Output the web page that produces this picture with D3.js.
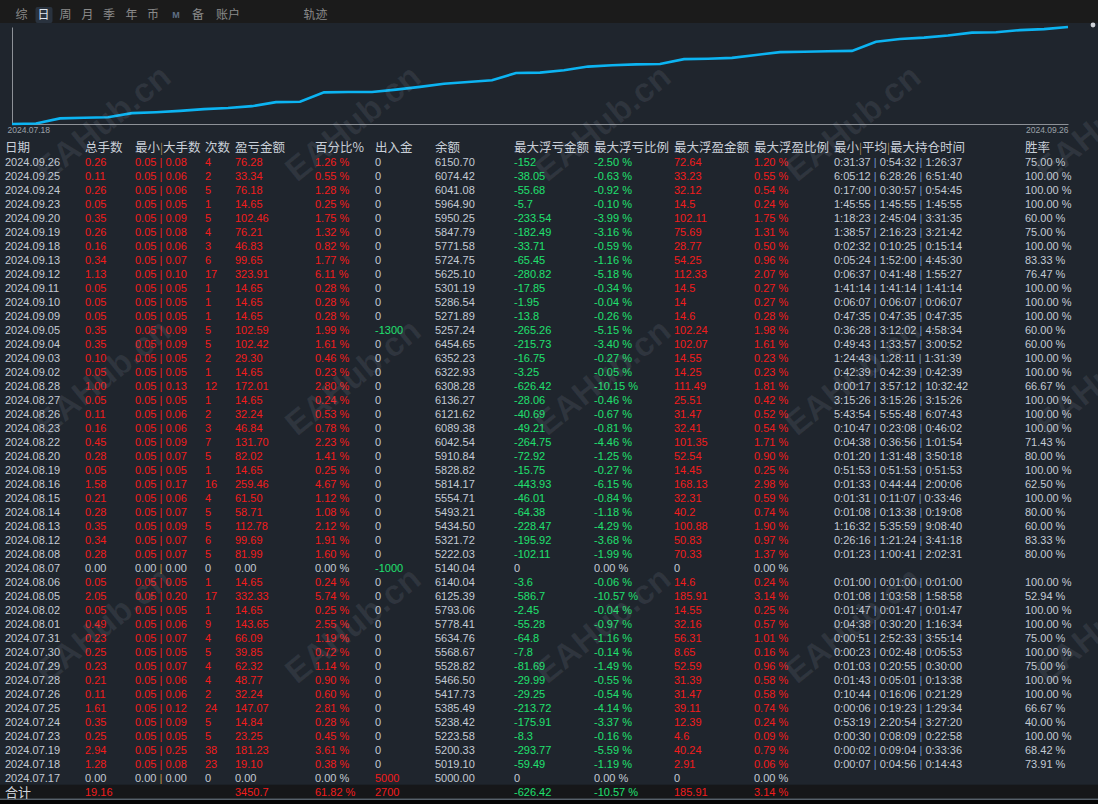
<!DOCTYPE html>
<html>
<head>
<meta charset="utf-8">
<script src="https://cdn.jsdelivr.net/npm/d3@7"></script>
<style>
  body { margin: 0; background: #1f252d; overflow: hidden; }
  svg { display: block; font-family: "Liberation Sans", Arial, "Noto Sans CJK SC", sans-serif; }
</style>
</head>
<body>
<svg width="1098" height="804"></svg>
<script>
// Daily report, newest day first (as shown in the table)
var dates = ["2024.09.26","2024.09.25","2024.09.24","2024.09.23","2024.09.20","2024.09.19","2024.09.18","2024.09.13","2024.09.12","2024.09.11","2024.09.10","2024.09.09","2024.09.05","2024.09.04","2024.09.03","2024.09.02","2024.08.28","2024.08.27","2024.08.26","2024.08.23","2024.08.22","2024.08.20","2024.08.19","2024.08.16","2024.08.15","2024.08.14","2024.08.13","2024.08.12","2024.08.08","2024.08.07","2024.08.06","2024.08.05","2024.08.02","2024.08.01","2024.07.31","2024.07.30","2024.07.29","2024.07.28","2024.07.26","2024.07.25","2024.07.24","2024.07.23","2024.07.19","2024.07.18","2024.07.17"];
var lots = [0.26,0.11,0.26,0.05,0.35,0.26,0.16,0.34,1.13,0.05,0.05,0.05,0.35,0.35,0.10,0.05,1.00,0.05,0.11,0.16,0.45,0.28,0.05,1.58,0.21,0.28,0.35,0.34,0.28,0.00,0.05,2.05,0.05,0.49,0.23,0.25,0.23,0.21,0.11,1.61,0.35,0.25,2.94,1.28,0.00];
var minLot = [0.05,0.05,0.05,0.05,0.05,0.05,0.05,0.05,0.05,0.05,0.05,0.05,0.05,0.05,0.05,0.05,0.05,0.05,0.05,0.05,0.05,0.05,0.05,0.05,0.05,0.05,0.05,0.05,0.05,0.00,0.05,0.05,0.05,0.05,0.05,0.05,0.05,0.05,0.05,0.05,0.05,0.05,0.05,0.05,0.00];
var maxLot = [0.08,0.06,0.06,0.05,0.09,0.08,0.06,0.07,0.10,0.05,0.05,0.05,0.09,0.09,0.05,0.05,0.13,0.05,0.06,0.06,0.09,0.07,0.05,0.17,0.06,0.07,0.09,0.07,0.07,0.00,0.05,0.20,0.05,0.06,0.07,0.05,0.07,0.06,0.06,0.12,0.09,0.05,0.25,0.08,0.00];
var counts = [4,2,5,1,5,4,3,6,17,1,1,1,5,5,2,1,12,1,2,3,7,5,1,16,4,5,5,6,5,0,1,17,1,9,4,5,4,4,2,24,5,5,38,23,0];
var profit = [76.28,33.34,76.18,14.65,102.46,76.21,46.83,99.65,323.91,14.65,14.65,14.65,102.59,102.42,29.30,14.65,172.01,14.65,32.24,46.84,131.70,82.02,14.65,259.46,61.50,58.71,112.78,99.69,81.99,0.00,14.65,332.33,14.65,143.65,66.09,39.85,62.32,48.77,32.24,147.07,14.84,23.25,181.23,19.10,0.00];
var profitPct = [1.26,0.55,1.28,0.25,1.75,1.32,0.82,1.77,6.11,0.28,0.28,0.28,1.99,1.61,0.46,0.23,2.80,0.24,0.53,0.78,2.23,1.41,0.25,4.67,1.12,1.08,2.12,1.91,1.60,0.00,0.24,5.74,0.25,2.55,1.19,0.72,1.14,0.90,0.60,2.81,0.28,0.45,3.61,0.38,0.00];
var cashFlow = [0,0,0,0,0,0,0,0,0,0,0,0,-1300,0,0,0,0,0,0,0,0,0,0,0,0,0,0,0,0,-1000,0,0,0,0,0,0,0,0,0,0,0,0,0,0,5000];
var balance = [6150.70,6074.42,6041.08,5964.90,5950.25,5847.79,5771.58,5724.75,5625.10,5301.19,5286.54,5271.89,5257.24,6454.65,6352.23,6322.93,6308.28,6136.27,6121.62,6089.38,6042.54,5910.84,5828.82,5814.17,5554.71,5493.21,5434.50,5321.72,5222.03,5140.04,6140.04,6125.39,5793.06,5778.41,5634.76,5568.67,5528.82,5466.50,5417.73,5385.49,5238.42,5223.58,5200.33,5019.10,5000.00];
var floatLoss = [-152,-38.05,-55.68,-5.7,-233.54,-182.49,-33.71,-65.45,-280.82,-17.85,-1.95,-13.8,-265.26,-215.73,-16.75,-3.25,-626.42,-28.06,-40.69,-49.21,-264.75,-72.92,-15.75,-443.93,-46.01,-64.38,-228.47,-195.92,-102.11,0,-3.6,-586.7,-2.45,-55.28,-64.8,-7.8,-81.69,-29.99,-29.25,-213.72,-175.91,-8.3,-293.77,-59.49,0];
var floatLossPct = [-2.50,-0.63,-0.92,-0.10,-3.99,-3.16,-0.59,-1.16,-5.18,-0.34,-0.04,-0.26,-5.15,-3.40,-0.27,-0.05,-10.15,-0.46,-0.67,-0.81,-4.46,-1.25,-0.27,-6.15,-0.84,-1.18,-4.29,-3.68,-1.99,0.00,-0.06,-10.57,-0.04,-0.97,-1.16,-0.14,-1.49,-0.55,-0.54,-4.14,-3.37,-0.16,-5.59,-1.19,0.00];
var floatGain = [72.64,33.23,32.12,14.5,102.11,75.69,28.77,54.25,112.33,14.5,14,14.6,102.24,102.07,14.55,14.25,111.49,25.51,31.47,32.41,101.35,52.54,14.45,168.13,32.31,40.2,100.88,50.83,70.33,0,14.6,185.91,14.55,32.16,56.31,8.65,52.59,31.39,31.47,39.11,12.39,4.6,40.24,2.91,0];
var floatGainPct = [1.20,0.55,0.54,0.24,1.75,1.31,0.50,0.96,2.07,0.27,0.27,0.28,1.98,1.61,0.23,0.23,1.81,0.42,0.52,0.54,1.71,0.90,0.25,2.98,0.59,0.74,1.90,0.97,1.37,0.00,0.24,3.14,0.25,0.57,1.01,0.16,0.96,0.58,0.58,0.74,0.24,0.09,0.79,0.06,0.00];
var holdTimes = ["0:31:37|0:54:32|1:26:37","6:05:12|6:28:26|6:51:40","0:17:00|0:30:57|0:54:45","1:45:55|1:45:55|1:45:55","1:18:23|2:45:04|3:31:35","1:38:57|2:16:23|3:21:42","0:02:32|0:10:25|0:15:14","0:05:24|1:52:00|4:45:30","0:06:37|0:41:48|1:55:27","1:41:14|1:41:14|1:41:14","0:06:07|0:06:07|0:06:07","0:47:35|0:47:35|0:47:35","0:36:28|3:12:02|4:58:34","0:49:43|1:33:57|3:00:52","1:24:43|1:28:11|1:31:39","0:42:39|0:42:39|0:42:39","0:00:17|3:57:12|10:32:42","3:15:26|3:15:26|3:15:26","5:43:54|5:55:48|6:07:43","0:10:47|0:23:08|0:46:02","0:04:38|0:36:56|1:01:54","0:01:20|1:31:48|3:50:18","0:51:53|0:51:53|0:51:53","0:01:33|0:44:44|2:00:06","0:01:31|0:11:07|0:33:46","0:01:08|0:13:38|0:19:08","1:16:32|5:35:59|9:08:40","0:26:16|1:21:24|3:41:18","0:01:23|1:00:41|2:02:31","","0:01:00|0:01:00|0:01:00","0:01:08|1:03:58|1:58:58","0:01:47|0:01:47|0:01:47","0:04:38|0:30:20|1:16:34","0:00:51|2:52:33|3:55:14","0:00:23|0:02:48|0:05:53","0:01:03|0:20:55|0:30:00","0:01:43|0:05:01|0:13:38","0:10:44|0:16:06|0:21:29","0:00:06|0:19:23|1:29:34","0:53:19|2:20:54|3:27:20","0:00:30|0:08:09|0:22:58","0:00:02|0:09:04|0:33:36","0:00:07|0:04:56|0:14:43",""];
var winRate = [75.00,100.00,100.00,100.00,60.00,75.00,100.00,83.33,76.47,100.00,100.00,100.00,60.00,60.00,100.00,100.00,66.67,100.00,100.00,100.00,71.43,80.00,100.00,62.50,100.00,80.00,60.00,83.33,80.00,null,100.00,52.94,100.00,100.00,75.00,100.00,75.00,100.00,100.00,66.67,40.00,100.00,68.42,73.91,null];

// Totals row (合计)
var totalKeys = ["lots","profit","profitPct","cashFlow","floatLoss","floatLossPct","floatGain","floatGainPct"];
var totalValues = ["19.16","3450.7","61.82 %","2700","-626.42","-10.57 %","185.91","3.14 %"];
var totalSigns = [1,1,1,1,-1,-1,1,1];

var tabs = ["综","日","周","月","季","年","币","M","备","账户","轨迹"];
var selectedTab = "日";
var watermark = "EAHub.cn";

var RED = "#f21c1c", GREEN = "#1fe06f", GRAY = "#c3cad4";

var svg = d3.select("svg");

// ---- tab bar
svg.append("rect").attr("width", 1098).attr("height", 23).attr("fill", "#1b1b1b");
var tabX = d3.scaleOrdinal().domain(tabs).range([21.5, 43.5, 65.5, 87.5, 109, 131.5, 153, 176, 198, 228, 315.5]);
svg.append("rect").attr("x", tabX(selectedTab) - 8).attr("y", 7).attr("width", 17).attr("height", 16)
  .attr("rx", 2).attr("fill", "#29323e");
svg.append("g").selectAll("text").data(tabs).join("text")
  .attr("x", d => tabX(d)).attr("y", 15).attr("dy", "0.36em")
  .attr("text-anchor", "middle")
  .style("font-family", d => d === "M" ? "'Liberation Sans', sans-serif" : "'Noto Sans CJK SC', sans-serif")
  .style("font-size", d => d === "M" ? "9px" : "12px")
  .style("font-weight", d => d === "M" ? "bold" : "normal")
  .attr("fill", d => d === selectedTab ? "#dfe5ee" : d === "M" ? "#5f6f86" : "#8a8a8a")
  .text(d => d);

// ---- cumulative profit line (one step per trading day, oldest first)
var chrono = profit.slice(0, -1).reverse();
var chronoDates = dates.slice(0, -1).reverse();
var cum = [0].concat(Array.from(d3.cumsum(chrono)));

var x = d3.scaleLinear().domain([0, chrono.length]).range([12, 1068]);
var y = d3.scaleLinear().domain([0, d3.max(cum)]).range([124, 27]);

var xAxis = svg.append("g")
  .attr("transform", "translate(0,124)")
  .call(d3.axisBottom(x).tickValues([0, chrono.length]).tickSize(0).tickSizeOuter(0)
    .tickFormat(i => i === 0 ? chronoDates[0] : chronoDates[chrono.length - 1]));
xAxis.select(".domain").attr("stroke", "#8d9197");
xAxis.selectAll("text")
  .attr("fill", "#9ba1a8").style("font-size", "8.5px")
  .attr("text-anchor", (d, i) => i === 0 ? "start" : "end")
  .attr("dx", (d, i) => i === 0 ? -5 : 0);

var yAxis = svg.append("g")
  .attr("transform", "translate(12,0)")
  .call(d3.axisLeft(y).tickValues([]).tickSizeOuter(0));
yAxis.select(".domain").attr("stroke", "#8d9197");

svg.append("path")
  .datum(cum)
  .attr("fill", "none")
  .attr("stroke", "#0cb4f2")
  .attr("stroke-width", 2.6)
  .attr("d", d3.line().x((d, i) => x(i)).y(d => y(d)));

svg.append("circle").attr("cx", 1093).attr("cy", 25).attr("r", 2.4).attr("fill", "#cfd3d8");

// ---- table
var rowY = d3.scaleBand().domain(d3.range(-1, dates.length + 1)).range([140.7, 798.7]);
var cy = i => rowY(i) + rowY.bandwidth() / 2;

var fmt2 = v => v.toFixed(2);
var pct = v => v.toFixed(2) + " %";
var pos = v => v > 0 ? RED : GRAY;
var neg = v => v < 0 ? GREEN : GRAY;

var columns = [
  { key: "date", title: "日期", x: 5, values: dates, text: v => v, color: () => GRAY },
  { key: "lots", title: "总手数", x: 85, values: lots, text: fmt2, color: pos },
  { key: "lotRange", title: "最小|大手数", x: 135, values: minLot },
  { key: "counts", title: "次数", x: 205, values: counts, text: String, color: pos },
  { key: "profit", title: "盈亏金额", x: 235, values: profit, text: fmt2, color: pos },
  { key: "profitPct", title: "百分比%", x: 315, values: profitPct, text: pct, color: pos },
  { key: "cashFlow", title: "出入金", x: 375, values: cashFlow, text: String, color: v => v > 0 ? RED : v < 0 ? GREEN : GRAY },
  { key: "balance", title: "余额", x: 435, values: balance, text: fmt2, color: () => GRAY },
  { key: "floatLoss", title: "最大浮亏金额", x: 514, values: floatLoss, text: String, color: neg },
  { key: "floatLossPct", title: "最大浮亏比例", x: 594, values: floatLossPct, text: pct, color: neg },
  { key: "floatGain", title: "最大浮盈金额", x: 674, values: floatGain, text: String, color: pos },
  { key: "floatGainPct", title: "最大浮盈比例", x: 754, values: floatGainPct, text: pct, color: pos },
  { key: "hold", title: "最小|平均|最大持仓时间", x: 834, values: holdTimes },
  { key: "win", title: "胜率", x: 1025, values: winRate, text: v => v === null ? "" : pct(v), color: () => GRAY }
];

// header
var header = svg.append("g").selectAll("text").data(columns).join("text")
  .attr("x", c => c.x).attr("y", cy(-1)).attr("dy", "0.36em")
  .attr("fill", "#c9cfd8")
  .style("font-family", "'Noto Sans CJK SC', sans-serif")
  .style("font-size", "12.5px");
header.each(function (c) {
  var parts = c.title.split("|");
  var t = d3.select(this);
  parts.forEach(function (p, i) {
    if (i > 0) t.append("tspan").attr("fill", "#b08a52").style("font-size", "11px").text("|");
    t.append("tspan").text(p);
  });
});

// total row background
svg.append("rect").attr("x", 0).attr("y", rowY(dates.length)).attr("width", 1098)
  .attr("height", rowY.bandwidth()).attr("fill", "#161719");
svg.append("rect").attr("x", 0).attr("y", rowY(dates.length) + rowY.bandwidth())
  .attr("width", 1098).attr("height", 804).attr("fill", "#050505");
svg.append("line").attr("x1", 0).attr("x2", 1098)
  .attr("y1", rowY(dates.length) + rowY.bandwidth() + 0.5).attr("y2", rowY(dates.length) + rowY.bandwidth() + 0.5)
  .attr("stroke", "#7d8a99");

var body = svg.append("g").style("font-size", "11px");

columns.forEach(function (c) {
  var g = body.append("g");
  var cells = g.selectAll("text").data(c.values).join("text")
    .attr("x", c.x).attr("y", (d, i) => cy(i)).attr("dy", "0.36em");

  if (c.key === "lotRange") {
    cells.each(function (d, i) {
      var active = maxLot[i] > 0;
      var t = d3.select(this).attr("fill", active ? RED : GRAY).attr("xml:space", "preserve");
      t.append("tspan").text(fmt2(minLot[i]) + " ");
      t.append("tspan").attr("fill", active ? RED : "#c49a45").text("|");
      t.append("tspan").text(" " + fmt2(maxLot[i]));
    });
  } else if (c.key === "hold") {
    cells.each(function (d) {
      if (!d) return;
      var t = d3.select(this).attr("fill", GRAY).attr("xml:space", "preserve");
      d.split("|").forEach(function (p, i) {
        if (i > 0) t.append("tspan").attr("fill", "#6f92cc").text(" | ");
        t.append("tspan").text(p);
      });
    });
  } else {
    cells.attr("fill", d => c.color(d)).text(d => c.text(d));
  }
});

// totals
body.append("text").attr("x", 5).attr("y", cy(dates.length)).attr("dy", "0.38em")
  .attr("fill", "#d0d5dc").style("font-family", "'Noto Sans CJK SC', sans-serif").style("font-size", "13px")
  .text("合计");
body.append("g").selectAll("text").data(totalKeys).join("text")
  .attr("x", k => columns.find(c => c.key === k).x)
  .attr("y", cy(dates.length)).attr("dy", "0.36em")
  .attr("fill", (k, i) => totalSigns[i] > 0 ? RED : GREEN)
  .text((k, i) => totalValues[i]);

// watermark
var wmX = [47, 297, 547, 797, 1047], wmY = [183, 437, 685];
var wm = svg.append("g").style("pointer-events", "none");
wmY.forEach(function (yy) {
  wmX.forEach(function (xx) {
    wm.append("text")
      .attr("transform", "translate(" + xx + "," + yy + ") rotate(-39)")
      .attr("fill", "rgba(205,215,230,0.09)")
      .style("font-family", "'Liberation Sans', Arial, sans-serif")
      .style("font-weight", "bold")
      .style("font-size", "34px")
      .text(watermark);
  });
});
</script>
</body>
</html>
